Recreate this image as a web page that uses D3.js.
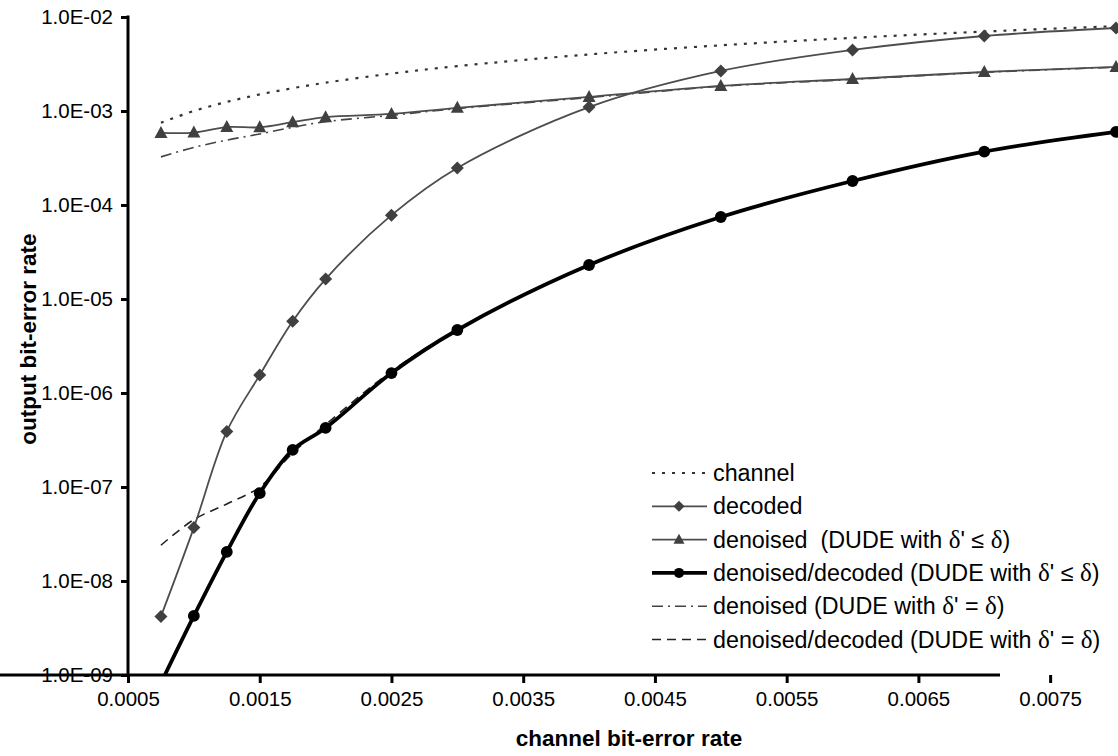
<!DOCTYPE html>
<html>
<head>
<meta charset="utf-8">
<script src="https://cdn.jsdelivr.net/npm/d3@7"></script>
<style>
body{margin:0;background:#fff}
text{font-family:"Liberation Sans",Arial,sans-serif;fill:#000}
</style>
</head>
<body>
<svg id="chart" width="1118" height="756"></svg>
<script>
// channel bit-error rates (x)
var ber = [0.00075, 0.001, 0.00125, 0.0015, 0.00175, 0.002, 0.0025, 0.003, 0.004, 0.005, 0.006, 0.007, 0.008];

// output bit-error rates (y), one list per curve
var channel     = [0.00075, 0.001, 0.00125, 0.0015, 0.00175, 0.002, 0.0025, 0.003, 0.004, 0.005, 0.006, 0.007, 0.008];
var decoded     = [4.2e-9, 3.7e-8, 3.9e-7, 1.55e-6, 5.8e-6, 1.63e-5, 7.8e-5, 2.48e-4, 1.1e-3, 2.67e-3, 4.46e-3, 6.28e-3, 7.64e-3];
var denoised    = [5.85e-4, 5.9e-4, 6.75e-4, 6.7e-4, 7.6e-4, 8.6e-4, 9.3e-4, 1.08e-3, 1.41e-3, 1.85e-3, 2.19e-3, 2.6e-3, 2.94e-3];
var den_dec     = [8.2e-10, 4.25e-9, 2.04e-8, 8.6e-8, 2.48e-7, 4.25e-7, 1.63e-6, 4.68e-6, 2.3e-5, 7.45e-5, 1.8e-4, 3.7e-4, 6.0e-4];
var denoised_eq = [3.25e-4, 4.1e-4, 4.9e-4, 5.7e-4, 6.7e-4, 7.7e-4, 9.0e-4, 1.06e-3, 1.39e-3, 1.83e-3, 2.17e-3, 2.58e-3, 2.92e-3];
var den_dec_eq  = [2.4e-8, 4.5e-8, 6.6e-8, 1.0e-7, 2.3e-7, 4.6e-7, 1.7e-6, 4.72e-6, 2.3e-5, 7.45e-5, 1.8e-4, 3.7e-4, 6.0e-4];

var x_ticks = [0.0005, 0.0015, 0.0025, 0.0035, 0.0045, 0.0055, 0.0065, 0.0075];
var y_ticks = [1e-2, 1e-3, 1e-4, 1e-5, 1e-6, 1e-7, 1e-8, 1e-9];
var y_tick_labels = ["1.0E-02","1.0E-03","1.0E-04","1.0E-05","1.0E-06","1.0E-07","1.0E-08","1.0E-09"];

var legend_labels = ["channel", "decoded", "denoised  (DUDE with δ' ≤ δ)", "denoised/decoded (DUDE with δ' ≤ δ)",
                     "denoised (DUDE with δ' = δ)", "denoised/decoded (DUDE with δ' = δ)"];

var svg = d3.select("#chart");

var x = d3.scaleLinear().domain([0.0005, 0.008]).range([128, 1116]);
var y = d3.scaleLog().domain([1e-9, 1e-2]).range([675, 17]);

// styles for each curve, same order as legend
var styles = [
    {data: channel,     color: "#333", width: 2.2, dash: "3,7",        marker: null},
    {data: decoded,     color: "#4d4d4d", width: 1.8, dash: null,      marker: "diamond"},
    {data: denoised,    color: "#4d4d4d", width: 1.8, dash: null,      marker: "triangle"},
    {data: den_dec,     color: "#000", width: 3.8, dash: null,         marker: "circle"},
    {data: denoised_eq, color: "#444", width: 1.6, dash: "11,5,2,5",   marker: null},
    {data: den_dec_eq,  color: "#222", width: 1.6, dash: "9,6",        marker: null}
];

svg.append("defs").append("clipPath").attr("id","plot_clip")
    .append("rect").attr("x",128).attr("y",0).attr("width",1000).attr("height",675);

// axes
var g_xaxis = svg.append("g").attr("transform","translate(0,675)")
    .call(d3.axisBottom(x).tickValues(x_ticks).tickFormat(d3.format(".4f")).tickSize(8).tickSizeOuter(0).tickPadding(8));
var g_yaxis = svg.append("g").attr("transform","translate(128,0)")
    .call(d3.axisLeft(y).tickValues(y_ticks).tickFormat(function(d,i){ return y_tick_labels[i]; }).tickSize(7).tickSizeOuter(0).tickPadding(8));

[g_xaxis, g_yaxis].forEach(function(g){
    g.select(".domain").attr("stroke","#000").attr("stroke-width",3);
    g.selectAll(".tick line").attr("stroke","#000").attr("stroke-width",3);
    g.selectAll(".tick text").style("font-size","20.5px").attr("fill","#000");
});
g_xaxis.select(".domain").attr("d","M-1.5,0H1000");
g_yaxis.select(".domain").attr("d","M0,15.5V676.5");

svg.append("text")
    .attr("x",629).attr("y",746)
    .attr("text-anchor","middle")
    .style("font-size","22.5px").style("font-weight","bold")
    .text("channel bit-error rate");

svg.append("text")
    .attr("transform","translate(36,339) rotate(-90)")
    .attr("text-anchor","middle")
    .style("font-size","22.5px").style("font-weight","bold")
    .text("output bit-error rate");

// curves
var g_plot = svg.append("g").attr("clip-path","url(#plot_clip)");

var line = d3.line()
    .x(function(d){ return x(d[0]); })
    .y(function(d){ return y(d[1]); })
    .curve(d3.curveCatmullRom.alpha(0.5));

var draw_order = [0, 4, 5, 1, 2, 3];

function draw_marker(g, type, cx, cy, color, sc){
    r = 6.5*sc;
    if(type == "diamond")
    {
        g.append("path").attr("fill",color)
            .attr("d","M"+cx+","+(cy-r)+"L"+(cx+r)+","+cy+"L"+cx+","+(cy+r)+"L"+(cx-r)+","+cy+"Z");
    }
    if(type == "triangle")
    {
        g.append("path").attr("fill",color)
            .attr("d","M"+cx+","+(cy-7*sc)+"L"+(cx+r)+","+(cy+5*sc)+"L"+(cx-r)+","+(cy+5*sc)+"Z");
    }
    if(type == "circle")
    {
        g.append("circle").attr("fill",color).attr("cx",cx).attr("cy",cy).attr("r",5.9*sc);
    }
}

for(k of draw_order)
{
    s = styles[k];
    pts = ber.map(function(b,i){ return [b, s.data[i]]; });
    g_plot.append("path")
        .attr("d", line(pts))
        .attr("fill","none")
        .attr("stroke", s.color)
        .attr("stroke-width", s.width)
        .attr("stroke-dasharray", s.dash);
    if(s.marker)
    {
        for(p of pts)
        {
            draw_marker(g_plot, s.marker, x(p[0]), y(p[1]), s.marker == "circle" ? "#000" : "#404040", 1);
        }
    }
}

// legend
var g_legend = svg.append("g");
legend_labels.forEach(function(label, i){
    s = styles[i];
    ly = 473 + i*33.3;
    g_legend.append("line")
        .attr("x1",652).attr("x2",707).attr("y1",ly).attr("y2",ly)
        .attr("stroke", s.color)
        .attr("stroke-width", s.width)
        .attr("stroke-dasharray", s.dash);
    if(s.marker)
    {
        draw_marker(g_legend, s.marker, 679, ly, s.marker == "circle" ? "#000" : "#404040", 0.85);
    }
    t = g_legend.append("text")
        .attr("x",713).attr("y",ly+8)
        .style("font-size","23.3px")
        .style("white-space","pre");
    parts = label.split("δ");
    parts.forEach(function(part, j){
        if(j > 0)
        {
            t.append("tspan").style("font-family","'Liberation Serif','DejaVu Serif',serif").style("font-size","25px").text("δ");
        }
        t.append("tspan").text(part);
    });
});
</script>
</body>
</html>
